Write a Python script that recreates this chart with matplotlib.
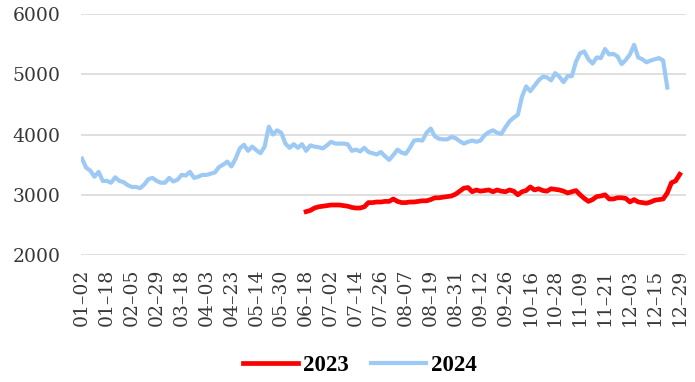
import numpy as np
import matplotlib.pyplot as plt

# trading-day index -> tick label every 6 points
tick_labels = ['01–02', '01–18', '02–05', '02–29', '03–18', '04–03', '04–23',
               '05–14', '05–30', '06–18', '07–02', '07–14', '07–26', '08–07',
               '08–19', '08–31', '09–12', '09–26', '10–16', '10–28', '11–09',
               '11–21', '12–03', '12–15', '12–29']

price_2024 = [
    3600, 3450, 3400, 3300, 3380, 3230, 3230, 3200, 3290, 3230,
    3210, 3160, 3130, 3130, 3110, 3170, 3260, 3280, 3230, 3200,
    3200, 3280, 3220, 3250, 3330, 3320, 3380, 3280, 3300, 3330,
    3330, 3350, 3370, 3460, 3500, 3550, 3470, 3600, 3770, 3830,
    3730, 3800, 3740, 3690, 3800, 4130, 4000, 4070, 4030, 3850,
    3780, 3840, 3780, 3840, 3730, 3820, 3800, 3790, 3770, 3820,
    3880, 3850, 3850, 3850, 3840, 3730, 3750, 3720, 3780, 3710,
    3690, 3670, 3710, 3640, 3580, 3660, 3750, 3700, 3680, 3780,
    3900, 3910, 3900, 4030, 4100, 3970, 3930, 3920, 3920, 3960,
    3940, 3890, 3850, 3880, 3900, 3880, 3900, 3990, 4040, 4070,
    4030, 4010, 4120, 4220, 4280, 4330, 4630, 4800, 4720, 4810,
    4900, 4960, 4950, 4900, 5020, 4960, 4870, 4970, 4970, 5210,
    5350, 5380, 5250, 5180, 5280, 5270, 5420, 5330, 5340, 5300,
    5170, 5240, 5330, 5490, 5280, 5250, 5200, 5230, 5250, 5270,
    5230, 4780,
]

start_2023 = 54
price_2023 = [
    2720, 2740, 2780, 2800, 2810, 2820, 2830, 2830, 2830, 2820,
    2810, 2790, 2780, 2780, 2800, 2870, 2870, 2880, 2880, 2890,
    2890, 2930, 2890, 2870, 2870, 2880, 2880, 2890, 2900, 2900,
    2920, 2950, 2950, 2960, 2970, 2980, 3010, 3060, 3110, 3120,
    3050, 3080, 3060, 3070, 3080, 3050, 3080, 3060, 3050, 3080,
    3060, 3000, 3050, 3070, 3130, 3080, 3100, 3070, 3060, 3100,
    3090, 3080, 3060, 3030, 3050, 3070, 3000, 2940, 2890, 2920,
    2970, 2980, 3000, 2930, 2930, 2950, 2950, 2940, 2880, 2920,
    2880, 2870, 2860, 2880, 2910, 2920, 2930, 3030, 3200, 3230,
    3340,
]

plt.rcParams['font.family'] = ['DejaVu Serif']

fig = plt.figure(figsize=(6.95, 3.82), dpi=100)
ax = fig.add_axes([0.1165, 0.3325, 0.8705, 0.6305])

x24 = np.arange(len(price_2024))
x23 = np.arange(start_2023, start_2023 + len(price_2023))

ax.plot(x23, price_2023, color='#FF0000', lw=3.4, label='2023', zorder=3)
ax.plot(x24, price_2024, color='#9DC9F5', lw=3.0, label='2024', zorder=3)

ax.set_ylim(2000, 6000)
ax.set_yticks([2000, 3000, 4000, 5000, 6000])
ax.set_xlim(-0.25, 145.5)
ax.set_xticks(np.arange(0, 145, 6))
ax.set_xticklabels(tick_labels, rotation=90)

ax.grid(axis='y', color='#D9D9D9', lw=1.2)
ax.set_axisbelow(True)
for s in ax.spines.values():
    s.set_visible(False)
ax.tick_params(length=0, labelsize=13.5, colors='#383838')
ax.tick_params(axis='y', pad=14.5)
ax.tick_params(axis='x', pad=10)

fig.legend(loc='center', bbox_to_anchor=(0.518, 0.042), ncol=2, frameon=False,
           prop={'family': 'Liberation Serif', 'size': 16.5, 'weight': 'bold'},
           handlelength=2.4, handletextpad=0.2, columnspacing=1.0)

fig.savefig('out.png', dpi=100)
